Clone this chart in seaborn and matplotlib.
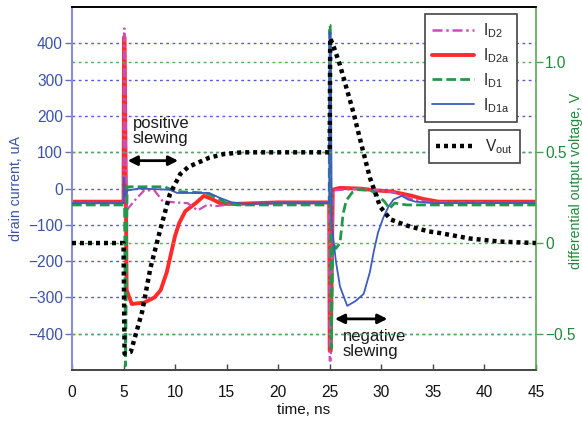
import matplotlib
matplotlib.use("Agg")
import matplotlib.pyplot as plt
import seaborn as sns
import numpy as np
from matplotlib.lines import Line2D

# ---------------- data ----------------
t_d2 = [0, 5.0, 5.05, 5.1, 5.3, 6.0, 7.0, 8.0, 8.8, 10.0, 11.2, 12.2, 13.1, 14.0, 15.0, 20.0,
        24.95, 25.0, 25.1, 25.3, 28.0, 30.0, 31.5, 33.0, 35.0, 45.0]
i_d2 = [-40, -40, 441, 441, -60, -35, -5, -5, -35, -38, -40, -60, -45, -48, -45, -40,
        -40, -474, -474, -5, 0, -5, -12, -30, -38, -40]

t_d2a = [0, 5.0, 5.05, 5.1, 5.3, 5.8, 7.0, 8.0, 8.6, 9.2, 9.6, 10.0, 10.4, 11.0, 12.0, 12.8,
         13.5, 14.5, 16.0, 20.0, 24.95, 25.0, 25.1, 25.3, 26.0, 28.0, 29.5, 31.0, 32.0, 33.0,
         34.0, 35.5, 45.0]
i_d2a = [-36, -36, 417, 417, -280, -318, -314, -300, -280, -230, -180, -130, -95, -62, -40, -20,
         -28, -42, -42, -38, -38, -447, -447, -3, 2, 0, -5, -8, -14, -20, -28, -36, -36]

t_d1 = [0, 5.0, 5.1, 5.2, 5.35, 6.0, 9.0, 10.0, 13.0, 14.0, 15.0, 16.0, 20.0,
        24.95, 25.0, 25.05, 25.15, 25.3, 25.6, 26.0, 26.3, 26.6, 27.2, 27.7, 29.0, 29.5, 30.3,
        30.8, 31.3, 32.5, 45.0]
i_d1 = [-45, -45, -45, -488, 5, 5, 5, -8, -12, -25, -40, -45, -45,
        -45, 450, 450, -440, -150, -165, -150, -70, -33, -10, -3, -5, -15, -35,
        -55, -40, -45, -45]

t_d1a = [0, 5.0, 5.05, 5.15, 5.4, 6.5, 9.5, 10.2, 13.3, 14.3, 15.5, 17.0, 20.0,
         24.95, 25.0, 25.1, 25.2, 25.6, 26.0, 26.7, 27.5, 28.3, 28.9, 29.3, 29.7, 30.2, 30.7,
         31.2, 32.0, 32.6, 33.3, 35.0, 45.0]
i_d1a = [-40, -40, 30, -20, -5, 0, -3, -12, -12, -25, -38, -42, -40,
         -40, 430, 430, -100, -200, -270, -323, -310, -290, -230, -170, -120, -80, -50,
         -30, -20, -30, -36, -40, -40]

t_vout = [0, 5.0, 5.1, 5.7, 6.8, 7.6, 8.5, 9.5, 10.5, 11.3, 12.1, 13.3, 14.7, 16.5, 18.0, 25.0,
          25.05, 25.4, 26.0, 26.6, 27.3, 28.0, 28.9, 29.9, 30.9, 32.5, 34.6, 35.7, 38.6, 41.5, 45.0]
v_vout = [0, 0, -0.61, -0.60, -0.38, -0.14, 0.06, 0.27, 0.38, 0.42, 0.44, 0.47, 0.49, 0.50, 0.50, 0.50,
          1.13, 1.08, 0.98, 0.86, 0.72, 0.56, 0.36, 0.20, 0.13, 0.096, 0.064, 0.055, 0.025, 0.008, 0.0]

left_ticks = [-400, -300, -200, -100, 0, 100, 200, 300, 400]
right_ticks = [-0.5, 0.0, 0.5, 1.0]
right_labels = ["\u22120.5", "0", "0.5", "1.0"]
x_ticks = [0, 5, 10, 15, 20, 25, 30, 35, 40, 45]

# ---------------- style ----------------
sns.set_theme(style="white")
plt.rcParams['font.family'] = ['Liberation Sans', 'DejaVu Sans']
plt.rcParams['mathtext.fontset'] = 'custom'
plt.rcParams['mathtext.rm'] = 'Liberation Sans'
plt.rcParams['mathtext.it'] = 'Liberation Sans'

BLUE_TXT = "#3b52a8"
GREEN_TXT = "#1f8a3c"
FS = 11.2
LFS = 10.2

fig = plt.figure(figsize=(5.82, 4.21), dpi=100)
ax1 = fig.add_axes([0.1237, 0.121, 0.797, 0.862])
ax2 = ax1.twinx()

c_d2, c_d2a, c_d1, c_d1a = "#c84fb8", "#ff2a2a", "#22994a", "#3d5cc0"
ls_d2 = (0, (4, 1.5, 1, 1.5))
ls_d1 = (0, (3.5, 1.5))
ls_v = (0, (0.9, 0.9))

sns.lineplot(x=t_d2, y=i_d2, ax=ax1, color=c_d2, lw=1.6, linestyle=ls_d2,
             estimator=None, sort=False, zorder=3)
sns.lineplot(x=t_d2a, y=i_d2a, ax=ax1, color=c_d2a, lw=2.8, estimator=None, sort=False, zorder=2)
sns.lineplot(x=t_d1, y=i_d1, ax=ax1, color=c_d1, lw=2.0, linestyle=ls_d1,
             estimator=None, sort=False, zorder=4)
sns.lineplot(x=t_d1a, y=i_d1a, ax=ax1, color=c_d1a, lw=1.3, estimator=None, sort=False, zorder=5)
sns.lineplot(x=t_vout, y=v_vout, ax=ax2, color="black", lw=3.2, linestyle=ls_v,
             estimator=None, sort=False, zorder=6)

ax1.set_xlim(0, 45)
ax1.set_ylim(-500, 500)
ax2.set_ylim(-0.7, 1.3)

ax1.set_xticks(x_ticks)
ax1.set_yticks(left_ticks)
ax1.set_yticklabels([("\u2212%d" % -v) if v < 0 else str(v) for v in left_ticks])
ax2.set_yticks(right_ticks)
ax2.set_yticklabels(right_labels)

# grids
ax1.grid(axis='y', color="#5a5ad0", linestyle=(0, (2, 2.5)), lw=1.0)
ax1.grid(axis='x', visible=False)
ax2.grid(axis='y', color="#4fae4f", linestyle=(0, (2, 2.5)), lw=1.0)
ax2.grid(axis='x', visible=False)

# spines
ax1.spines['left'].set_color("#8c8cd4")
ax1.spines['left'].set_linewidth(1.5)
ax2.spines['left'].set_visible(False)
ax2.spines['right'].set_color("#5aa85a")
ax2.spines['right'].set_linewidth(1.2)
ax1.spines['right'].set_visible(False)
for a in (ax1, ax2):
    a.spines['top'].set_color("black")
    a.spines['top'].set_linewidth(1.2)
    a.spines['bottom'].set_color("#444444")
    a.spines['bottom'].set_linewidth(1.2)

ax1.tick_params(axis='y', colors="#6a6ac8", labelcolor=BLUE_TXT, labelsize=FS, length=5,
                width=1, direction='out', left=True, pad=1.5)
ax2.tick_params(axis='y', colors="#4fa04f", labelcolor=GREEN_TXT, labelsize=FS, length=5,
                width=1, direction='out', right=True, pad=1.5)
ax1.tick_params(axis='x', colors="#444444", labelcolor="#111111", labelsize=FS, length=4,
                width=1, direction='in', bottom=True, pad=11)

ax1.set_xlabel("time, ns", fontsize=11, color="#111111", labelpad=2)
ax1.set_ylabel("drain current, uA", fontsize=LFS, color=BLUE_TXT)
ax2.set_ylabel("differential output voltage, V", fontsize=LFS, color=GREEN_TXT)
ax1.yaxis.set_label_coords(-0.106, 0.5)
ax2.yaxis.set_label_coords(1.071, 0.52)

# annotations
AFS = 12
ax1.text(5.9, 160, "positive\nslewing", fontsize=AFS, color="#1a1a1a", va='center', ha='left',
         linespacing=1.0)
ax1.annotate("", xy=(10.3, 77), xytext=(5.4, 77),
             arrowprops=dict(arrowstyle='<|-|>', lw=2, color='black', mutation_scale=14,
                             shrinkA=0, shrinkB=0))
ax1.text(26.3, -428, "negative\nslewing", fontsize=AFS, color="#1a1a1a", va='center', ha='left',
         linespacing=1.0)
ax1.annotate("", xy=(30.6, -359), xytext=(25.5, -359),
             arrowprops=dict(arrowstyle='<|-|>', lw=2, color='black', mutation_scale=14,
                             shrinkA=0, shrinkB=0))

# legends
h1 = [Line2D([], [], color=c_d2, lw=1.8, linestyle=ls_d2),
      Line2D([], [], color=c_d2a, lw=2.8),
      Line2D([], [], color=c_d1, lw=2.0, linestyle=ls_d1),
      Line2D([], [], color=c_d1a, lw=1.3)]
l1 = [r"$\mathregular{I_{D2}}$", r"$\mathregular{I_{D2a}}$", r"$\mathregular{I_{D1}}$",
      r"$\mathregular{I_{D1a}}$"]
leg1 = ax2.legend(h1, l1, loc='upper right', bbox_to_anchor=(0.959, 0.981), fontsize=FS,
                  frameon=True, fancybox=False, edgecolor="#444444", framealpha=1,
                  handlelength=2.7, labelspacing=0.4, borderpad=0.45, handletextpad=0.6,
                  borderaxespad=0)
leg1.get_frame().set_linewidth(1.2)
ax2.add_artist(leg1)
h2 = [Line2D([], [], color="black", lw=3.2, linestyle=ls_v)]
leg2 = ax2.legend(h2, [r"$\mathregular{V_{out}}$"], loc='upper right',
                  bbox_to_anchor=(0.966, 0.661), fontsize=FS, frameon=True, fancybox=False,
                  edgecolor="#444444", framealpha=1, handlelength=2.4, borderpad=0.45,
                  handletextpad=0.8, borderaxespad=0)
leg2.get_frame().set_linewidth(1.2)

fig.savefig("out.png", dpi=100)
